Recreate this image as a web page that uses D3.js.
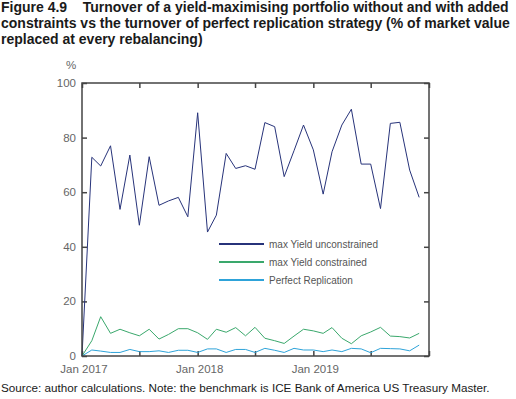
<!DOCTYPE html>
<html>
<head>
<meta charset="utf-8">
<script src="https://cdn.jsdelivr.net/npm/d3@7"></script>
<style>
  body { margin: 0; background: #fff; }
  svg text { font-family: "Liberation Sans", Arial, sans-serif; }
</style>
</head>
<body>
<div id="chart"></div>
<script>
// monthly observations, Jan 2017 .. Dec 2019
const startMonth = new Date(2017, 0, 1)
const unconstrained = [0, 72.8, 69.6, 77.0, 53.7, 73.6, 47.9, 73.0, 55.2, 56.8, 58.1, 51.0,
  89.1, 45.4, 51.6, 74.2, 68.7, 69.7, 68.4, 85.5, 84.0, 65.7, 75.2, 84.6,
  75.5, 59.3, 74.8, 84.6, 90.4, 70.3, 70.3, 54.0, 85.2, 85.6, 68.1, 58.1]
const constrained = [0, 5.6, 14.4, 8.3, 9.8, 8.5, 7.4, 9.8, 6.2, 7.9, 10.0, 10.0,
  8.5, 6.1, 9.8, 8.7, 10.4, 7.4, 10.5, 6.5, 5.6, 4.6, 7.3, 9.8,
  9.2, 8.3, 10.4, 6.5, 4.5, 7.4, 8.8, 10.5, 7.3, 7.1, 6.6, 8.3]
const replication = [0, 2.2, 1.8, 1.3, 1.3, 2.4, 1.6, 1.6, 1.9, 1.3, 2.1, 2.1,
  1.3, 2.6, 2.6, 1.3, 2.4, 2.4, 1.3, 2.8, 2.1, 1.3, 2.8, 2.2,
  2.2, 1.6, 2.2, 1.6, 2.8, 2.6, 1.2, 2.8, 2.7, 2.6, 1.9, 4.0]
const seriesNames = ["max Yield unconstrained", "max Yield constrained", "Perfect Replication"]
const seriesColors = ["#27337a", "#3aa86c", "#2ea3d9"]
const yTicks = [0, 20, 40, 60, 80, 100]
const xLabelDates = [new Date(2017, 0, 1), new Date(2018, 0, 1), new Date(2019, 0, 1)]

const width = 516
const height = 399
const margin = { left: 82, right: 87, top: 83, bottom: 43 }

const svg = d3.select('#chart')
  .append('svg')
  .attr('width', width)
  .attr('height', height)

const title = svg.append('text')
  .attr('fill', '#1a1a1a')
  .style('font-size', '14px')
  .style('font-weight', 'bold')
title.append('tspan').attr('x', 1).attr('y', 12).text('Figure 4.9\u00a0\u00a0\u00a0\u00a0Turnover of a yield-maximising portfolio without and with added')
title.append('tspan').attr('x', 1).attr('y', 28).text('constraints vs the turnover of perfect replication strategy (% of market value')
title.append('tspan').attr('x', 1).attr('y', 44).text('replaced at every rebalancing)')

const xScale = d3.scaleTime()
  .domain([new Date(2017, 0, 1), new Date(2020, 0, 1)])
  .range([margin.left, width - margin.right])

const yScale = d3.scaleLinear()
  .domain([0, 100])
  .range([height - margin.bottom, margin.top])

const tickDates = d3.timeMonth.every(6).range(new Date(2017, 0, 1), new Date(2020, 0, 2))

// frame ticks (inward)
const xBottom = d3.axisTop(xScale).tickValues(tickDates).tickSize(5).tickFormat('')
const xTop = d3.axisBottom(xScale).tickValues(tickDates).tickSize(5).tickFormat('')
const yLeft = d3.axisRight(yScale).tickValues(yTicks).tickSize(5).tickFormat('')
const yRight = d3.axisLeft(yScale).tickValues(yTicks).tickSize(5).tickFormat('')

svg.append('g').attr('transform', `translate(0, ${height - margin.bottom})`).call(xBottom)
svg.append('g').attr('transform', `translate(0, ${margin.top})`).call(xTop)
svg.append('g').attr('transform', `translate(${margin.left}, 0)`).call(yLeft)
svg.append('g').attr('transform', `translate(${width - margin.right}, 0)`).call(yRight)
svg.selectAll('.domain').remove()
svg.selectAll('.tick line').attr('stroke', '#444').attr('stroke-width', 1.5)

// tick labels
svg.append('g').selectAll('text')
  .data(yTicks)
  .enter()
  .append('text')
  .attr('x', margin.left - 6)
  .attr('y', d => yScale(d) + 4)
  .attr('text-anchor', 'end')
  .attr('fill', '#666')
  .style('font-size', '11.5px')
  .text(d => d)

svg.append('text')
  .attr('x', 71)
  .attr('y', 69)
  .attr('text-anchor', 'middle')
  .attr('fill', '#666')
  .style('font-size', '11.5px')
  .text('%')

svg.append('g').selectAll('text')
  .data(xLabelDates)
  .enter()
  .append('text')
  .attr('x', d => xScale(d) + 2)
  .attr('y', height - margin.bottom + 17)
  .attr('text-anchor', 'middle')
  .attr('fill', '#666')
  .style('font-size', '11.5px')
  .text(d => d3.timeFormat('%b %Y')(d))

// lines
const allSeries = [unconstrained, constrained, replication]
const line = d3.line()
  .x((d, i) => xScale(d3.timeMonth.offset(startMonth, i)))
  .y(d => yScale(d))

svg.append('g').selectAll('path')
  .data(allSeries)
  .enter()
  .append('path')
  .attr('d', d => line(d))
  .attr('fill', 'none')
  .attr('stroke', (d, i) => seriesColors[i])
  .attr('stroke-width', 1)

// frame
svg.append('rect')
  .attr('x', margin.left)
  .attr('y', margin.top)
  .attr('width', width - margin.left - margin.right)
  .attr('height', height - margin.top - margin.bottom)
  .attr('fill', 'none')
  .attr('stroke', '#444')
  .attr('stroke-width', 1.5)

// legend
const legend = svg.append('g').attr('transform', 'translate(219, 244)')
seriesNames.forEach((name, i) => {
  legend.append('line')
    .attr('x1', 0).attr('x2', 45)
    .attr('y1', i * 18).attr('y2', i * 18)
    .attr('stroke', seriesColors[i])
    .attr('stroke-width', 2)
  legend.append('text')
    .attr('x', 50)
    .attr('y', i * 18 + 3.5)
    .attr('fill', '#555')
    .style('font-size', '10px')
    .text(name)
})

svg.append('text')
  .attr('x', 1)
  .attr('y', 392)
  .attr('fill', '#1a1a1a')
  .style('font-size', '11.7px')
  .text('Source: author calculations. Note: the benchmark is ICE Bank of America US Treasury Master.')
</script>
</body>
</html>
